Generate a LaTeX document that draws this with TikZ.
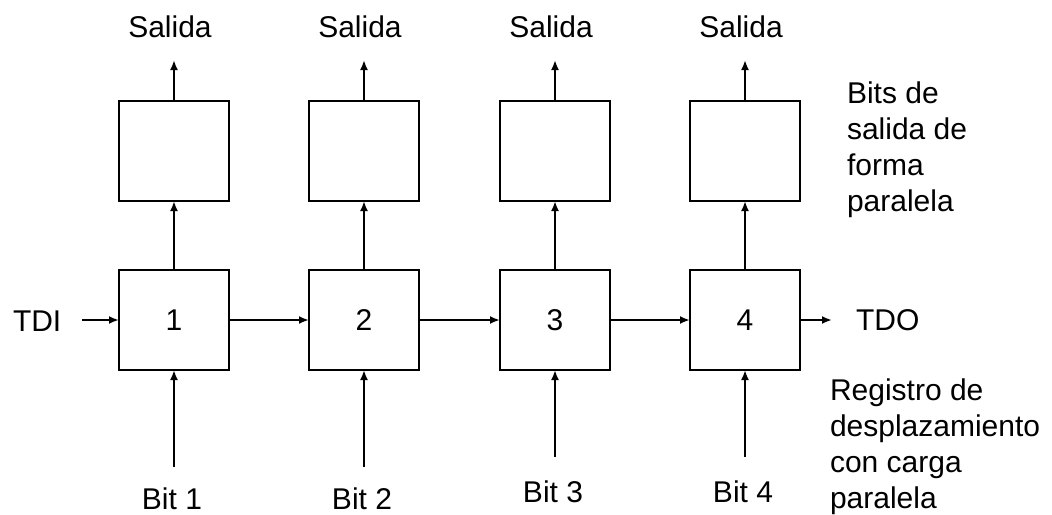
\documentclass[tikz,border=0pt]{standalone}
\usepackage{fontspec}
\setmainfont{Liberation Sans}
\usetikzlibrary{arrows.meta}
\begin{document}
\begin{tikzpicture}[x=0.75pt,y=-0.75pt,
  every node/.style={font=\fontsize{22.5}{27}\selectfont, inner sep=0pt, outer sep=0pt},
  cell/.style={draw, line width=1.5pt, minimum width=82.5pt, minimum height=75pt},
  link/.style={line width=1.5pt, -{Latex[length=7.5pt,width=6pt]}},
  lbl/.style={anchor=base}]
\useasboundingbox (0,0) rectangle (1052,514);

% shift register stages with their parallel output latches
\foreach \i/\x/\ya/\yb in {1/174/467/509, 2/364/467/509, 3/555/457/502, 4/745/457/502}{
  \node[cell] (reg\i) at (\x,320) {\i};
  \node[cell] (par\i) at (\x,151) {};
  \node[lbl] (sal\i) at (\x-4,37) {Salida};
  \node[lbl] (bit\i) at (\x-2,\yb) {Bit \i};
  \coordinate (top\i) at (\x,60);
  \coordinate (low\i) at (\x,\ya);
  \draw[link] (reg\i.north) -- (par\i.south);
  \draw[link] (par\i.north) -- (top\i);
  \draw[link] (low\i) -- (reg\i.south);
}

% serial chain
\node[anchor=base west] (tdi) at (13,331) {TDI};
\coordinate (tdiend) at (82,320);
\draw[link] (tdiend) -- (reg1.west);
\draw[link] (reg1.east) -- (reg2.west);
\draw[link] (reg2.east) -- (reg3.west);
\draw[link] (reg3.east) -- (reg4.west);
\coordinate (tdoend) at (832,320);
\draw[link] (reg4.east) -- (tdoend);
\node[anchor=base west] (tdo) at (856,330) {TDO};

% side notes (base anchor sits on the last line)
\node[anchor=base west, align=left] (notepar) at (847,211)
  {Bits de\\salida de\\forma\\paralela};
\node[anchor=base west, align=left] (notereg) at (830,508)
  {Registro de\\desplazamiento\\con carga\\paralela};
\end{tikzpicture}
\end{document}
